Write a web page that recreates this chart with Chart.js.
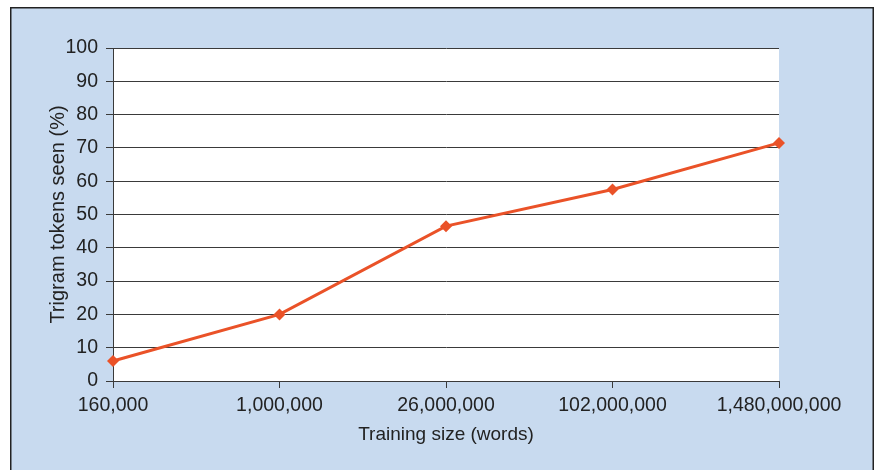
<!DOCTYPE html>
<html>
<head>
<meta charset="utf-8">
<script src="https://cdn.jsdelivr.net/npm/chart.js@4.4.1/dist/chart.umd.min.js"></script>
<style>
    html, body { margin: 0; padding: 0; background: #fff; }
    #wrap { width: 874px; height: 470px; }
</style>
</head>
<body>
<div id="wrap"><canvas id="trigramChart" width="874" height="470"></canvas></div>
<script>
// Data
const trainingSizes = ['160,000', '1,000,000', '26,000,000', '102,000,000', '1,480,000,000'];
const tokensSeen = [6, 20, 46.5, 57.5, 71.5];
const yTicks = { min: 0, max: 100, step: 10 };

const LINE_COLOR = '#ea5228';
const GRID_COLOR = '#3a3a3a';
const PANEL_BG = '#c8daef';
const FONT_FAMILY = "'Liberation Sans', Arial, sans-serif";

// Light blue panel with a dark frame, white plot area
const backgroundPlugin = {
    id: 'panelBackground',
    beforeDraw(chart) {
        const ctx = chart.ctx;
        const area = chart.chartArea;
        ctx.save();
        ctx.fillStyle = PANEL_BG;
        ctx.fillRect(10, 7, chart.width - 10, chart.height - 7);
        ctx.strokeStyle = '#222';
        ctx.lineWidth = 1.5;
        ctx.beginPath();
        ctx.moveTo(10.75, chart.height);
        ctx.lineTo(10.75, 7.75);
        ctx.lineTo(chart.width - 0.75, 7.75);
        ctx.lineTo(chart.width - 0.75, chart.height);
        ctx.stroke();
        ctx.fillStyle = '#fff';
        ctx.fillRect(area.left, area.top, area.right - area.left, area.bottom - area.top);
        ctx.restore();
    }
};

const ctx = document.getElementById('trigramChart');

new Chart(ctx, {
    type: 'line',
    data: {
        labels: trainingSizes,
        datasets: [{
            data: tokensSeen,
            borderColor: LINE_COLOR,
            backgroundColor: LINE_COLOR,
            borderWidth: 3,
            pointStyle: 'rectRot',
            pointRadius: 6,
            pointBorderWidth: 0,
            tension: 0,
            fill: false
        }]
    },
    options: {
        responsive: false,
        animation: false,
        layout: {
            padding: { left: 10, top: 48, right: 95, bottom: 0 }
        },
        plugins: {
            legend: { display: false },
            tooltip: { enabled: false }
        },
        scales: {
            x: {
                offset: false,
                grid: {
                    color: GRID_COLOR,
                    drawOnChartArea: false,
                    drawTicks: true,
                    tickLength: 7
                },
                border: { color: GRID_COLOR, width: 1 },
                ticks: {
                    color: '#222',
                    font: { family: FONT_FAMILY, size: 19.5 },
                    padding: 6,
                    maxRotation: 0,
                    autoSkip: false
                },
                title: {
                    display: true,
                    text: 'Training size (words)',
                    color: '#222',
                    font: { family: FONT_FAMILY, size: 19 },
                    padding: { top: 0, bottom: 24 }
                },
                afterFit(scale) { scale.height = 89; }
            },
            y: {
                min: yTicks.min,
                max: yTicks.max,
                grid: {
                    color: GRID_COLOR,
                    tickLength: 7
                },
                border: { color: GRID_COLOR, width: 1 },
                ticks: {
                    stepSize: yTicks.step,
                    color: '#222',
                    font: { family: FONT_FAMILY, size: 19.5 },
                    padding: 8
                },
                title: {
                    display: true,
                    text: 'Trigram tokens seen (%)',
                    color: '#222',
                    font: { family: FONT_FAMILY, size: 20 },
                    padding: { top: 36, bottom: 0 }
                },
                afterFit(scale) { scale.width = 103; }
            }
        }
    },
    plugins: [backgroundPlugin]
});
</script>
</body>
</html>
